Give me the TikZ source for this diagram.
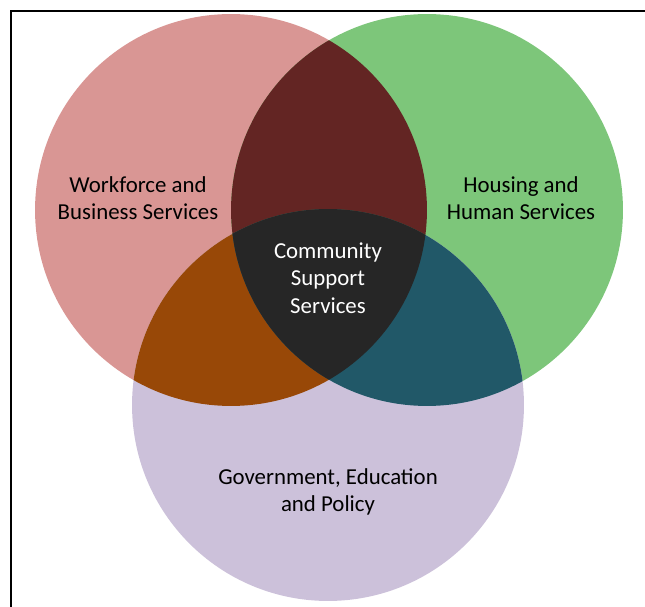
\documentclass[tikz,border=0pt]{standalone}
\usepackage{fontspec}
\setmainfont{Carlito}
\definecolor{workred}{HTML}{D99694}
\definecolor{housegreen}{HTML}{7DC67A}
\definecolor{govpurple}{HTML}{CCC1DA}
\definecolor{redgreen}{HTML}{632523}
\definecolor{redpurple}{HTML}{984807}
\definecolor{greenpurple}{HTML}{215868}
\definecolor{coredark}{HTML}{262626}

\begin{document}
\begin{tikzpicture}[x=0.02cm,y=-0.02cm,
    setlabel/.style={align=center,font=\fontsize{13}{15.6}\selectfont}]
        \useasboundingbox (0,0) rectangle (645,607);

        % frame
        \draw[line width=1.1pt] (645,11) -- (11,11) -- (11,607);

        % circles
        \fill[workred] (231,210) circle (3.92cm);
        \fill[housegreen] (427,210) circle (3.92cm);
        \fill[govpurple] (328,405) circle (3.92cm);

        % overlaps
        \begin{scope}
            \clip (231,210) circle (3.92cm);
            \fill[redgreen] (427,210) circle (3.92cm);
            \fill[redpurple] (328,405) circle (3.92cm);
        \end{scope}
        \begin{scope}
            \clip (427,210) circle (3.92cm);
            \fill[greenpurple] (328,405) circle (3.92cm);
        \end{scope}
        \begin{scope}
            \clip (231,210) circle (3.92cm);
            \clip (427,210) circle (3.92cm);
            \fill[coredark] (328,405) circle (3.92cm);
        \end{scope}

        % labels
        \node[setlabel] (work) at (138,198) {Workforce and\\Business Services};
        \node[setlabel] (house) at (521,198) {Housing and\\Human Services};
        \node[setlabel, text=white] (core) at (328,278) {Community\\Support\\Services};
        \node[setlabel] (gov) at (328,492) {Government, Education\\and Policy};

    \end{tikzpicture}
\end{document}
